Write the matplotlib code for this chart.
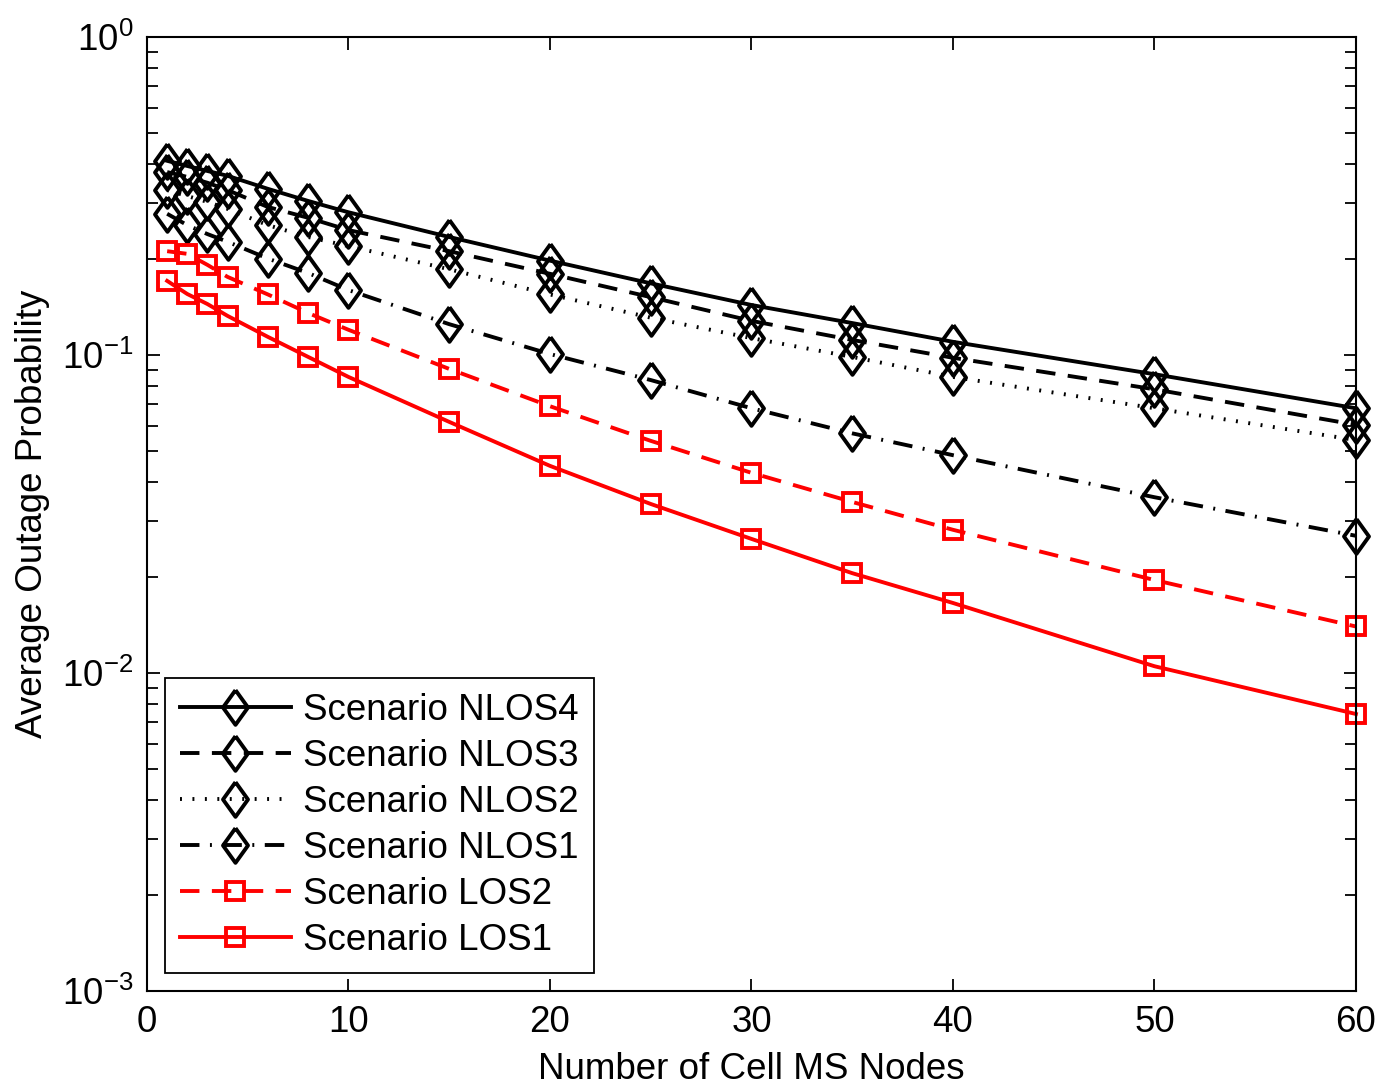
import matplotlib
matplotlib.use('Agg')
import matplotlib.pyplot as plt
from matplotlib.ticker import LogLocator, NullFormatter

plt.rcParams['font.family'] = ['Liberation Sans', 'DejaVu Sans']
plt.rcParams['mathtext.default'] = 'regular'

# number of cell MS nodes
nodes = [1, 2, 3, 4, 6, 8, 10, 15, 20, 25, 30, 35, 40, 50, 60]

# average outage probability
nlos4 = [0.408, 0.393, 0.379, 0.366, 0.333, 0.305, 0.281, 0.235, 0.198, 0.168, 0.1436, 0.126, 0.110, 0.087, 0.068]
nlos3 = [0.376, 0.363, 0.348, 0.330, 0.292, 0.270, 0.247, 0.212, 0.180, 0.152, 0.128, 0.1115, 0.098, 0.078, 0.0603]
nlos2 = [0.330, 0.316, 0.303, 0.288, 0.256, 0.235, 0.220, 0.186, 0.155, 0.131, 0.113, 0.0986, 0.0853, 0.068, 0.054]
nlos1 = [0.278, 0.256, 0.240, 0.227, 0.201, 0.181, 0.160, 0.125, 0.1007, 0.0834, 0.068, 0.0567, 0.0484, 0.0357, 0.027]
los2 = [0.212, 0.208, 0.192, 0.176, 0.155, 0.1355, 0.120, 0.0904, 0.069, 0.0537, 0.0426, 0.0345, 0.0282, 0.0196, 0.014]
los1 = [0.171, 0.1555, 0.1446, 0.1327, 0.114, 0.0986, 0.0853, 0.0616, 0.0448, 0.034, 0.0264, 0.0206, 0.0166, 0.0105, 0.00743]

fig = plt.figure(figsize=(13.96, 10.88), dpi=100)
ax = fig.add_axes([0.1053, 0.0892, 0.8660, 0.8768])

# matlab style diamond, a bit wider than matplotlib's thin_diamond
diamond = [(0, 1), (0.72, 0), (0, -1), (-0.72, 0), (0, 1)]

lw = 2.8
dkw = dict(marker=diamond, markersize=25, markerfacecolor='none', markeredgewidth=2.8, clip_on=False)
skw = dict(marker='s', markersize=13, markerfacecolor='none', markeredgewidth=2.8, clip_on=False)

ax.semilogy(nodes, nlos4, color='k', linestyle='-', lw=lw, label='Scenario NLOS4', **dkw)
ax.semilogy(nodes, nlos3, color='k', linestyle=(0, (5, 3.2)), lw=lw, label='Scenario NLOS3', **dkw)
ax.semilogy(nodes, nlos2, color='k', linestyle=(0, (0.5, 2.7)), lw=lw, label='Scenario NLOS2', **dkw)
ax.semilogy(nodes, nlos1, color='k', linestyle=(0, (5, 2.7, 0.5, 2.7)), lw=lw, label='Scenario NLOS1', **dkw)
ax.semilogy(nodes, los2, color='r', linestyle=(0, (5, 3.2)), lw=lw, label='Scenario LOS2', **skw)
ax.semilogy(nodes, los1, color='r', linestyle='-', lw=lw, label='Scenario LOS1', **skw)

ax.set_xlim(0, 60)
ax.set_ylim(1e-3, 1)
ax.set_xticks([0, 10, 20, 30, 40, 50, 60])
ax.yaxis.set_minor_locator(LogLocator(base=10, subs=range(2, 10)))
ax.yaxis.set_minor_formatter(NullFormatter())

ax.tick_params(which='both', direction='in', top=True, right=True, labelsize=26.5, width=1.3)
ax.tick_params(which='major', length=9, pad=10)
ax.tick_params(which='minor', length=8)
for s in ax.spines.values():
    s.set_linewidth(1.5)

ax.set_xlabel('Number of Cell MS Nodes', fontsize=26.5, labelpad=9)
ax.set_ylabel('Average Outage Probability', fontsize=26.5, labelpad=8)

leg = ax.legend(loc='lower left', fontsize=26.5, handlelength=3.0, handletextpad=0.35,
                labelspacing=0.3, borderpad=0.4, borderaxespad=0.5, fancybox=False,
                framealpha=1, edgecolor='k')
leg.get_frame().set_linewidth(1.3)

fig.savefig('out.png', dpi=100)
